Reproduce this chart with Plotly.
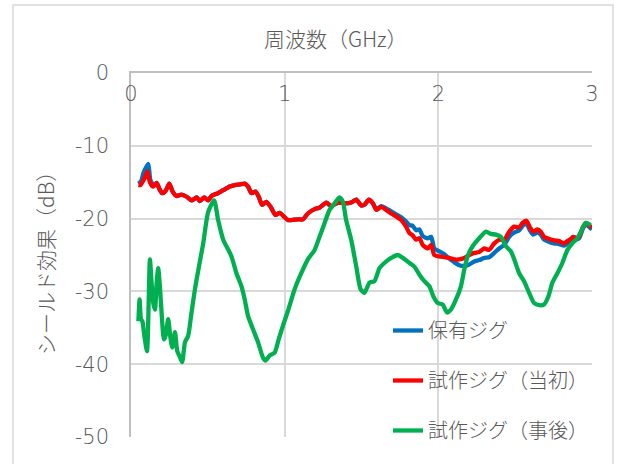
import plotly.graph_objects as go

# ---- data (GHz, dB) ----
green_f = [0.048,0.056,0.065,0.074,0.087,0.104,0.123,0.134,0.145,0.156,0.167,0.177,0.188,0.199,0.214,0.225,0.242,0.255,0.268,0.286,
           0.301,0.318,0.333,0.351,0.372,0.394,0.416,0.442,0.470,0.502,0.541,0.567,0.600,0.621,0.654,0.686,0.719,0.740,0.762,0.794,
           0.827,0.859,0.875,0.903,0.935,0.961,0.989,1.021,1.065,1.108,1.151,1.195,1.227,1.260,1.292,1.325,1.357,1.379,1.400,1.433,
           1.466,1.494,1.519,1.552,1.584,1.617,1.649,1.693,1.736,1.769,1.812,1.844,1.877,1.909,1.942,1.968,1.996,2.028,2.056,2.082,
           2.115,2.147,2.169,2.190,2.223,2.266,2.310,2.342,2.375,2.407,2.440,2.472,2.494,2.526,2.558,2.591,2.623,2.656,2.688,2.716,
           2.742,2.775,2.807,2.840,2.872,2.905,2.933,2.958,2.991]
green_db = [-34.1,-31.1,-33.8,-34.1,-36.1,-38.2,-25.6,-28.8,-31.6,-32.5,-28.8,-26.8,-29.3,-32.9,-36.6,-36.1,-33.8,-36.1,-37.7,-35.6,
            -38.2,-39.0,-39.7,-37.0,-36.1,-32.9,-29.7,-26.6,-23.4,-19.1,-17.5,-20.2,-22.9,-23.8,-25.2,-27.5,-29.3,-31.1,-33.4,-35.2,
            -37.0,-39.1,-39.5,-38.8,-38.4,-36.6,-34.7,-32.7,-29.7,-27.5,-25.6,-24.3,-22.5,-20.6,-18.8,-17.9,-17.1,-17.7,-20.2,-22.9,
            -26.6,-29.7,-30.2,-28.8,-28.6,-26.8,-26.1,-25.4,-25.0,-25.4,-26.1,-26.6,-27.7,-28.6,-29.3,-30.7,-31.6,-31.8,-32.9,-32.5,
            -31.1,-29.3,-27.0,-25.2,-23.8,-22.7,-21.8,-22.1,-22.2,-22.5,-23.8,-24.5,-25.6,-27.5,-28.6,-30.2,-31.6,-31.9,-31.8,-30.7,
            -28.8,-27.5,-26.1,-24.3,-23.4,-22.7,-21.6,-20.6,-20.9]

red_f = [0.048,0.061,0.087,0.106,0.123,0.145,0.167,0.184,0.203,0.225,0.249,0.271,0.297,0.329,0.362,0.394,0.427,0.448,0.476,0.502,
         0.524,0.567,0.600,0.643,0.675,0.708,0.740,0.762,0.784,0.810,0.831,0.853,0.881,0.909,0.940,0.968,0.994,1.021,1.043,1.087,
         1.119,1.151,1.195,1.227,1.271,1.303,1.346,1.390,1.433,1.466,1.498,1.519,1.548,1.574,1.596,1.628,1.660,1.693,1.725,1.758,
         1.790,1.812,1.833,1.855,1.877,1.898,1.931,1.953,1.974,2.006,2.039,2.071,2.104,2.136,2.169,2.201,2.234,2.266,2.299,2.331,
         2.364,2.396,2.430,2.461,2.494,2.526,2.548,2.573,2.596,2.617,2.645,2.667,2.688,2.721,2.753,2.786,2.818,2.840,2.862,2.877,
         2.894,2.916,2.942,2.963,2.985,3.000]
red_db = [-15.4,-15.4,-14.5,-13.5,-15.0,-15.6,-15.1,-15.9,-16.5,-16.2,-15.2,-16.3,-16.9,-16.7,-17.0,-17.5,-17.1,-17.6,-17.1,-17.5,
          -16.9,-16.5,-16.1,-15.6,-15.4,-15.3,-15.2,-15.6,-16.5,-16.3,-17.0,-18.1,-17.7,-18.4,-19.5,-19.2,-19.7,-20.2,-20.2,-20.1,
          -20.1,-19.3,-18.7,-18.5,-17.8,-18.3,-17.8,-17.9,-17.8,-17.4,-18.2,-18.1,-17.4,-17.9,-18.8,-18.4,-18.8,-19.3,-19.7,-20.2,
          -21.1,-22.0,-22.3,-22.9,-22.7,-23.6,-24.1,-23.6,-25.0,-25.2,-25.3,-25.4,-25.6,-25.6,-25.4,-25.0,-24.7,-24.6,-24.1,-24.3,
          -23.4,-22.9,-22.9,-21.8,-21.1,-21.2,-20.6,-20.3,-21.2,-21.8,-21.5,-21.8,-22.5,-22.8,-23.0,-23.1,-23.4,-23.1,-22.8,-22.5,
          -22.6,-22.5,-21.1,-20.6,-21.0,-21.2]

blue_f = [0.048,0.065,0.080,0.100,0.113,0.125,0.145,0.167,0.184,0.203,0.225,0.249,0.271,0.297,0.329,0.362,0.394,0.427,0.448,0.476,
          0.502,0.524,0.567,0.600,0.643,0.675,0.708,0.740,0.762,0.784,0.810,0.831,0.853,0.881,0.909,0.940,0.968,0.994,1.021,1.043,
          1.087,1.119,1.151,1.195,1.227,1.271,1.303,1.346,1.390,1.433,1.466,1.498,1.519,1.548,1.574,1.596,1.628,1.660,1.693,1.725,
          1.758,1.790,1.812,1.833,1.855,1.877,1.898,1.931,1.953,1.974,2.006,2.039,2.071,2.104,2.136,2.169,2.201,2.234,2.266,2.299,
          2.331,2.364,2.396,2.430,2.461,2.494,2.526,2.548,2.573,2.596,2.617,2.645,2.667,2.688,2.721,2.753,2.786,2.818,2.840,2.862,
          2.877,2.894,2.916,2.942,2.963,2.985,3.000]
blue_db = [-15.2,-14.9,-13.8,-12.9,-12.5,-14.6,-15.4,-15.1,-15.9,-16.5,-16.2,-15.2,-16.3,-16.9,-16.7,-17.0,-17.5,-17.1,-17.6,-17.1,
           -17.5,-16.9,-16.5,-16.1,-15.6,-15.4,-15.3,-15.2,-15.6,-16.5,-16.3,-17.0,-18.1,-17.7,-18.4,-19.5,-19.2,-19.7,-20.2,-20.2,
           -20.1,-20.1,-19.3,-18.7,-18.5,-17.8,-18.3,-17.8,-17.9,-17.8,-17.4,-18.2,-18.1,-17.4,-17.9,-18.7,-18.3,-18.6,-19.0,-19.4,
           -19.8,-20.4,-20.9,-21.0,-21.6,-21.5,-22.4,-22.7,-22.5,-24.1,-24.5,-24.9,-25.5,-26.0,-26.4,-26.5,-26.3,-25.9,-25.7,-25.4,
           -25.3,-24.7,-24.1,-23.6,-22.5,-21.9,-21.6,-21.0,-20.7,-21.6,-22.2,-21.9,-22.2,-22.9,-23.2,-23.4,-23.5,-23.7,-23.4,-23.1,
           -22.9,-22.9,-22.7,-21.3,-20.8,-21.2,-21.5]

series_names = ["保有ジグ", "試作ジグ（当初）", "試作ジグ（事後）"]
series_colors = ["#0070C0", "#FF0000", "#00B050"]
x_ticks = [0, 1, 2, 3]
x_tick_text = ["0", "1", "2", "3"]
y_ticks = [0, -10, -20, -30, -40, -50]
y_tick_text = ["0", "-10", "-20", "-30", "-40", "-50"]

FONT = "Noto Sans CJK JP, Noto Sans, sans-serif"
TICK_FONT = "DejaVu Sans, Noto Sans CJK JP, sans-serif"
GREY = "#595959"
W_TXT = 300

fig = go.Figure()
for i, (fx, fy) in enumerate([(blue_f, blue_db), (red_f, red_db), (green_f, green_db)]):
    fig.add_trace(go.Scatter(
        x=fx, y=fy, mode="lines", name=series_names[i],
        line=dict(color=series_colors[i], width=4.3, shape="spline", smoothing=0.6),
        legendgroup=f"g{i}",
    ))

fig.update_layout(
    width=623, height=464,
    margin=dict(l=131, r=31, t=73, b=27),
    paper_bgcolor="white", plot_bgcolor="white",
    font=dict(family=FONT, color=GREY, size=20, weight=W_TXT),
    showlegend=True,
    legend=dict(
        x=(388 - 131) / 461, y=(437 - 311) / 364, xanchor="left", yanchor="top",
        bgcolor="rgba(0,0,0,0)", font=dict(size=20, color=GREY, family=FONT, weight=W_TXT),
        tracegroupgap=21, traceorder="grouped", itemwidth=30,
    ),
    shapes=[dict(type="rect", xref="paper", yref="paper",
                 x0=(13 - 131) / 461, x1=(613 - 131) / 461,
                 y0=(437 - 470) / 364, y1=(437 - 5) / 364,
                 line=dict(color="#d9d9d9", width=1.5), fillcolor="rgba(0,0,0,0)", layer="below")],
    annotations=[
        dict(text="周波数（GHz）", xref="paper", yref="paper",
             x=(336 - 131) / 461, y=(437 - 38) / 364, xanchor="center", yanchor="middle",
             showarrow=False, font=dict(size=21, color=GREY, family=FONT, weight=W_TXT)),
        dict(text="シールド効果（dB）", xref="paper", yref="paper",
             x=(45 - 131) / 461, y=(437 - 258) / 364, xanchor="center", yanchor="middle",
             textangle=-90, showarrow=False, font=dict(size=21, color=GREY, family=FONT, weight=W_TXT)),
    ],
)

fig.update_xaxes(
    range=[0, 3], side="top", tickvals=x_ticks, ticktext=x_tick_text, ticklabelposition="inside",
    ticklabeloverflow="allow",
    ticks="", showgrid=True, gridcolor="#d9d9d9", gridwidth=1.5,
    showline=True, linecolor="#bfbfbf", linewidth=1.5, zeroline=False,
    tickfont=dict(size=21, color=GREY, family=TICK_FONT, weight=200), ticklabelstandoff=15,
)
fig.update_yaxes(
    range=[-50, 0], tickvals=y_ticks, ticktext=y_tick_text, ticks="",
    ticklabeloverflow="allow",
    showgrid=True, gridcolor="#d9d9d9", gridwidth=1.5,
    showline=True, linecolor="#bfbfbf", linewidth=1.5, zeroline=False,
    tickfont=dict(size=21, color=GREY, family=TICK_FONT, weight=200), ticklabelstandoff=16,
)

fig.write_html("out.html", config={"displayModeBar": False},
               post_script="document.body.style.margin='0';")
